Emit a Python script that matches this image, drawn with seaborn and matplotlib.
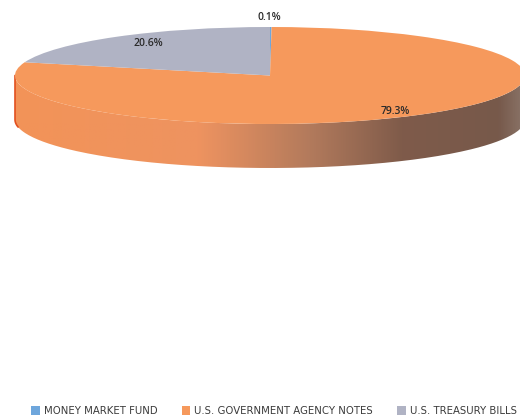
import numpy as np
import seaborn as sns
import matplotlib
matplotlib.use('Agg')
import matplotlib.pyplot as plt
from matplotlib.colors import LinearSegmentedColormap
from matplotlib.patches import PathPatch
from matplotlib.path import Path

# chart data
categories = ['MONEY MARKET FUND', 'U.S. GOVERNMENT AGENCY NOTES', 'U.S. TREASURY BILLS']
values = [0.1, 79.3, 20.6]
colors = ['#6ea6dc', '#f6995c', '#b0b3c4']

sns.set_theme(style='white')
plt.rcParams['font.family'] = ['Open Sans', 'DejaVu Sans']

# disc geometry in pixels
cx, cy, rx, ry, depth = 270, 75.5, 255, 48.5, 44


def to_data(x, y):
    return (x - cx) / rx, (cy - y) / ry


fig = plt.figure(figsize=(5.2, 4.16), dpi=100)
ax = fig.add_axes([0, 0, 1, 1])

wedges, texts, autotexts = ax.pie(values, colors=colors, startangle=90, counterclock=False,
                                  radius=1, center=(0, 0), autopct='%.1f%%',
                                  wedgeprops={'linewidth': 0, 'zorder': 3},
                                  textprops={'fontsize': 7.5, 'color': '#2b2b2b', 'fontweight': 'semibold'})
for t, pos in zip(autotexts, [(269, 17), (395, 111), (148, 44)]):
    t.set_position(to_data(*pos))
    t.set_zorder(5)

# side wall of the disc
d = depth / ry
th = np.linspace(np.pi, 2 * np.pi, 200)
wall_x = np.concatenate([np.cos(th), np.cos(th[::-1])])
wall_y = np.concatenate([np.sin(th) - d, np.sin(th[::-1])])
wall = Path(np.column_stack([wall_x, wall_y]))

wall_cmap = LinearSegmentedColormap.from_list('wall', [(0, '#f39358'), (0.36, '#ee9360'), (0.58, '#b27a5c'),
                                                       (0.76, '#7f5b4a'), (0.95, '#77594b'), (1, '#8a7468')])
gradient = np.linspace(0, 1, 256).reshape(1, -1)
img = ax.imshow(gradient, cmap=wall_cmap, extent=(-1, 1, -1 - d, 0), aspect='auto', zorder=1)
clip = PathPatch(wall, transform=ax.transData, facecolor='none', edgecolor='none')
ax.add_patch(clip)
img.set_clip_path(clip)

# reddish rim on the left side
rim = np.linspace(np.pi, 1.05 * np.pi, 20)
ax.plot(np.r_[np.cos(rim[::-1]), -1], np.r_[np.sin(rim[::-1]) - d, 0], color='#e2501f', lw=1.2, zorder=2)

ax.set_aspect('auto')
ax.set_xlim(-cx / rx, (520 - cx) / rx)
ax.set_ylim((cy - 416) / ry, cy / ry)
ax.axis('off')

leg = ax.legend(wedges, categories, ncols=3, loc='center', bbox_to_anchor=(274 / 520, 1 - 411 / 416),
                frameon=False, handlelength=0.85, handleheight=0.85, handletextpad=0.4,
                columnspacing=2.4, borderpad=0, borderaxespad=0, labelcolor='#3a3a3a',
                prop={'family': 'DejaVu Sans', 'size': 7.3})

fig.savefig('out.png', dpi=100)
